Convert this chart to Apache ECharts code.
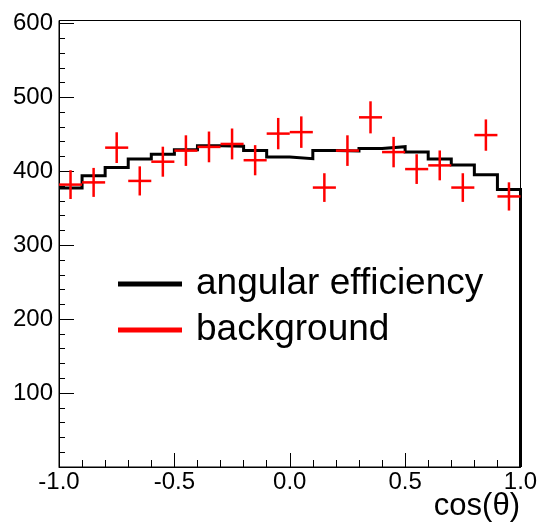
<!DOCTYPE html>
<html>
<head>
<meta charset="utf-8">
<script src="https://cdn.jsdelivr.net/npm/echarts@6/dist/echarts.min.js"></script>
<style>html,body{margin:0;padding:0;background:#fff;}#c{width:541px;height:524px;}</style>
</head>
<body>
<div id="c"></div>
<script>
// bin edges of cos(theta)
var binEdges = [-1.0,-0.9,-0.8,-0.7,-0.6,-0.5,-0.4,-0.3,-0.2,-0.1,0.0,0.1,0.2,0.3,0.4,0.5,0.6,0.7,0.8,0.9,1.0];
var binCenters = [-0.95,-0.85,-0.75,-0.65,-0.55,-0.45,-0.35,-0.25,-0.15,-0.05,0.05,0.15,0.25,0.35,0.45,0.55,0.65,0.75,0.85,0.95];
// angular efficiency histogram (black)
var efficiency = [377.5,394,405,416.5,423,429,434.5,434,428,419.5,417,428,427.5,431,433.3,426,416.5,408.5,395.5,375.5];
// background points (red) and their errors
var background = [382,385,432,387,413,428,433,437,415,451,453,378,428,473,426,403,408,378,449,366];
var bgErrors = [19.5,19.6,20.8,19.7,20.3,20.7,20.8,20.9,20.4,21.2,21.3,19.4,20.7,21.7,20.6,20.1,20.2,19.4,21.2,19.1];
var yTickLabels = [100,200,300,400,500,600];
var xTickLabels = [-1.0,-0.5,0.0,0.5,1.0];
var xTitle = 'cos(θ)';

var FONT = 'Liberation Sans, Arial, Helvetica, sans-serif';

var histPts = [];
for (var i = 0; i < efficiency.length; i++) {
  histPts.push([binEdges[i], efficiency[i]]);
  histPts.push([binEdges[i+1], efficiency[i]]);
}
histPts.push([binEdges[binEdges.length-1], 0]);

var bgData = background.map(function(v, i){ return [binCenters[i], v, bgErrors[i], binEdges[i], binEdges[i+1]]; });

var chart = echarts.init(document.getElementById('c'), null, {renderer:'canvas'});
chart.setOption({
  animation: false,
  backgroundColor: '#fff',
  title: {text: xTitle, right: 21, top: 491, padding: 0,
    textStyle: {fontFamily: FONT, fontSize: 31, fontWeight: 'normal', color: '#000'}},
  grid: {left: 59, right: 20.5, top: 20.5, bottom: 57, containLabel: false, outerBoundsMode: 'none',
    show: true, borderColor: '#000', borderWidth: 1, backgroundColor: 'transparent'},
  legend: {
    orient: 'vertical', left: 113, top: 259, itemWidth: 64, itemHeight: 5, itemGap: 6,
    selectedMode: false,
    textStyle: {fontFamily: FONT, fontSize: 37, color: '#000', lineHeight: 40, padding: [0,0,0,9]},
    data: [
      {name: 'angular efficiency', icon: 'rect', itemStyle: {color: '#000'}},
      {name: 'background', icon: 'rect', itemStyle: {color: '#ff0000'}}
    ]
  },
  xAxis: {
    type: 'value', min: -1, max: 1, interval: 0.5,
    axisLine: {show: true, onZero: false, lineStyle: {color: '#000', width: 1}},
    axisTick: {show: true, inside: true, length: 14, lineStyle: {color: '#000', width: 1}},
    minorTick: {show: true, splitNumber: 5, length: 7, lineStyle: {color: '#000', width: 1}},
    axisLabel: {fontFamily: FONT, fontSize: 24, color: '#000', margin: 3,
      formatter: function(v){ for (var k=0;k<xTickLabels.length;k++){ if (Math.abs(v-xTickLabels[k])<1e-6) return xTickLabels[k].toFixed(1);} return ''; }},
    splitLine: {show: false}
  },
  yAxis: {
    type: 'value', min: 0, max: 604, interval: 100,
    axisLine: {show: true, onZero: false, lineStyle: {color: '#000', width: 1}},
    axisTick: {show: true, inside: true, length: 15, lineStyle: {color: '#000', width: 1}},
    minorTick: {show: true, splitNumber: 5, length: 6, lineStyle: {color: '#000', width: 1}},
    axisLabel: {fontFamily: FONT, fontSize: 24, color: '#000', margin: 6,
      formatter: function(v){ return yTickLabels.indexOf(Math.round(v)) >= 0 && Math.abs(v-Math.round(v))<1e-6 ? String(Math.round(v)) : ''; }},
    splitLine: {show: false}
  },
  series: [
    {
      name: 'angular efficiency', type: 'line', data: histPts, showSymbol: false, symbol: 'none',
      clip: false,
      lineStyle: {color: '#000', width: 3, join: 'miter', cap: 'butt'},
      itemStyle: {color: '#000'}, z: 2
    },
    {
      name: 'background', type: 'custom', data: bgData, z: 3,
      itemStyle: {color: '#ff0000'},
      renderItem: function(params, api){
        var x = api.value(0), y = api.value(1), e = api.value(2), lo = api.value(3), hi = api.value(4);
        var pl = api.coord([lo, y]), pr = api.coord([hi, y]);
        var pt = api.coord([x, y + e]), pb = api.coord([x, y - e]);
        var st = {stroke: '#ff0000', lineWidth: 2.5};
        return {type: 'group', children: [
          {type: 'line', shape: {x1: pl[0], y1: pl[1], x2: pr[0], y2: pr[1]}, style: st},
          {type: 'line', shape: {x1: pt[0], y1: pt[1], x2: pb[0], y2: pb[1]}, style: st}
        ]};
      }
    }
  ]
});
</script>
</body>
</html>
